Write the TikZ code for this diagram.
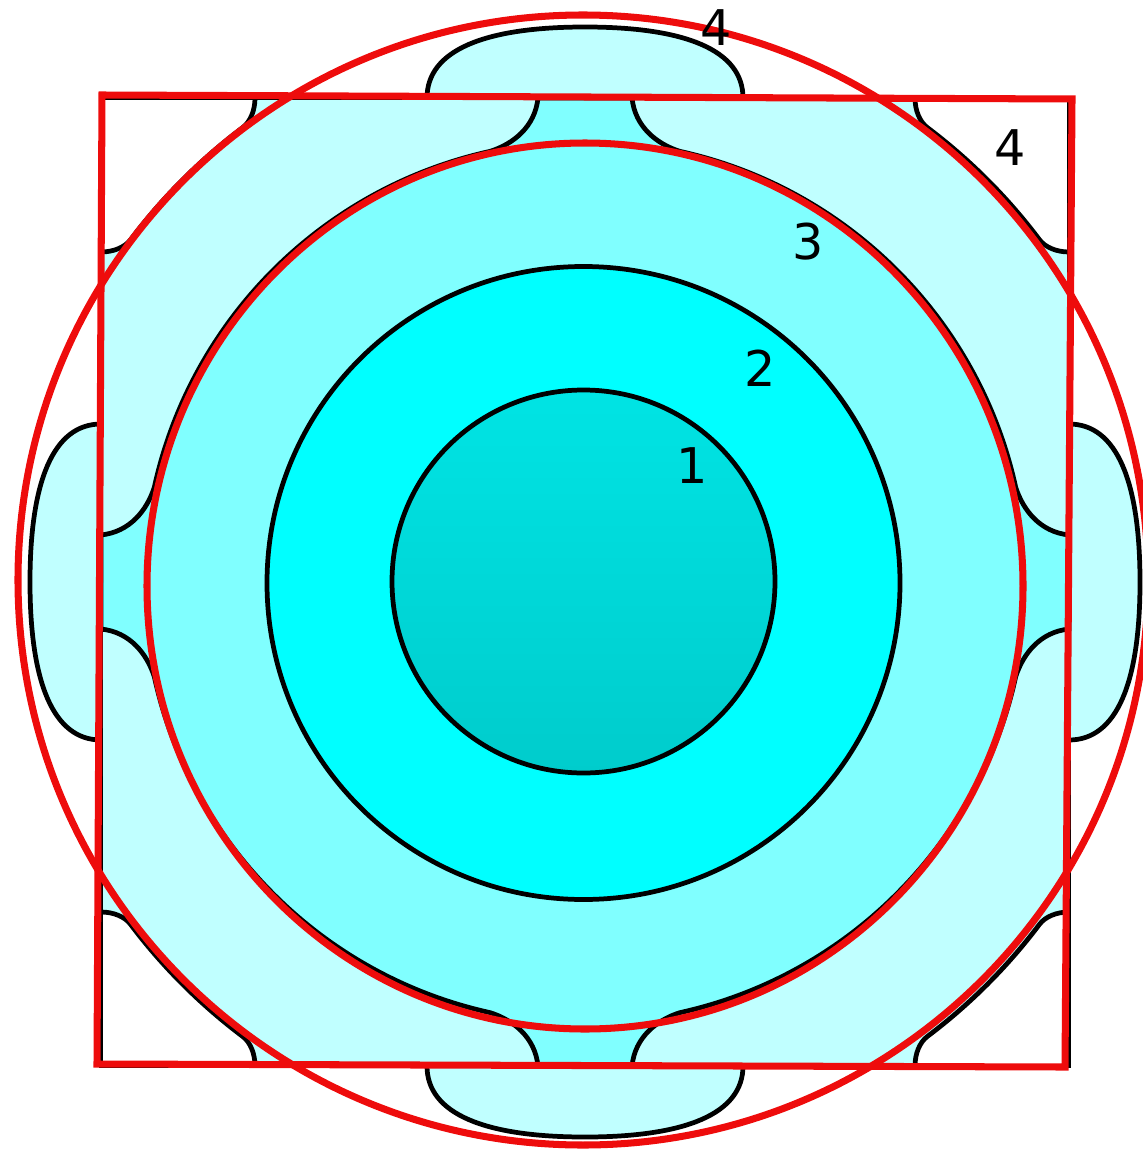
\documentclass[tikz,border=0pt]{standalone}
\usepackage{fontspec}
\setsansfont{DejaVu Sans}

\definecolor{coretop}{RGB}{0,228,228}
\definecolor{corebot}{RGB}{0,204,204}
\definecolor{bandtwo}{RGB}{0,255,255}
\definecolor{bandthree}{RGB}{128,255,255}
\definecolor{bandfour}{RGB}{192,255,255}
\definecolor{markred}{RGB}{238,12,12}

% one lobe outside the box and one corner pocket (seen from the centre, top side)
\newcommand{\lobeline}{(-158,-484) .. controls (-158,-532) and (-100,-555) .. (0,-555) .. controls (100,-555) and (158,-532) .. (158,-484)}
\newcommand{\cornerline}{(-330,-484) .. controls (-330,-472) and (-334.4,-460.4) .. (-342.4,-454.4) arc[start angle=-127, end angle=-143, radius=569] .. controls (-460.4,-334.4) and (-472,-330) .. (-484,-330)}

\begin{document}
\begin{tikzpicture}[x=0.1mm, y=-0.1mm,
    bandline/.style={draw=black, line width=1.35pt},
    redmark/.style={draw=markred, line width=2pt},
    bandlabel/.style={font=\sffamily\fontsize{14}{14}\selectfont, inner sep=0pt}]
    \useasboundingbox (0,0) rectangle (1142,1151);

    % --- lobes outside the box ---
    \foreach \a in {0,90,180,270} {
        \begin{scope}[shift={(585,582)}, rotate=\a]
            \fill[bandfour] \lobeline -- cycle;
            \draw[bandline] \lobeline;
        \end{scope}
    }

    % --- box and the empty corners (band 4) ---
    \fill[bandfour] (101,98) rectangle (1069,1066);
    \foreach \a in {0,90,180,270} {
        \begin{scope}[shift={(585,582)}, rotate=\a]
            \fill[white] \cornerline -- (-484,-484) -- cycle;
            \draw[bandline] \cornerline;
        \end{scope}
    }
    \draw[bandline] (101,98) rectangle (1069,1066);

    % --- band 3: circle with four necks ---
    \begin{scope}[shift={(585,582)}]
        \fill[bandthree, bandline] (-102.4:441)
            \foreach \a in {0,90,180,270} {
                .. controls (\a-99.33:443.9) and (\a-96.27:457.7) .. (\a-95.55:486.3)
                -- (\a-84.45:486.3)
                .. controls (\a-83.73:457.7) and (\a-80.67:443.9) .. (\a-77.6:441)
                arc[start angle=\a-77.6, end angle=\a-12.4, radius=441]
            } -- cycle;
    \end{scope}

    % --- bands 2 and 1 ---
    \fill[bandtwo, bandline] (583.5,583) circle[radius=316.5];
    \shadedraw[top color=coretop, bottom color=corebot, draw=black, line width=1.35pt] (583.5,581.5) circle[radius=191.5];

    % --- red marks ---
    \draw[redmark] (102,95) -- (1072,99) -- (1065,1067) -- (97,1064) -- cycle;
    \draw[redmark] (583,580) circle[radius=565];
    \draw[redmark] (585,586) ellipse[x radius=438, y radius=443];

    % --- band numbers ---
    \node[bandlabel] (lab1) at (692,466) {1};
    \node[bandlabel] (lab2) at (760,368) {2};
    \node[bandlabel] (lab3) at (808,242) {3};
    \node[bandlabel] (lab4) at (1010,148) {4};
    \node[bandlabel] (lab4top) at (716,28) {4};

\end{tikzpicture}
\end{document}
